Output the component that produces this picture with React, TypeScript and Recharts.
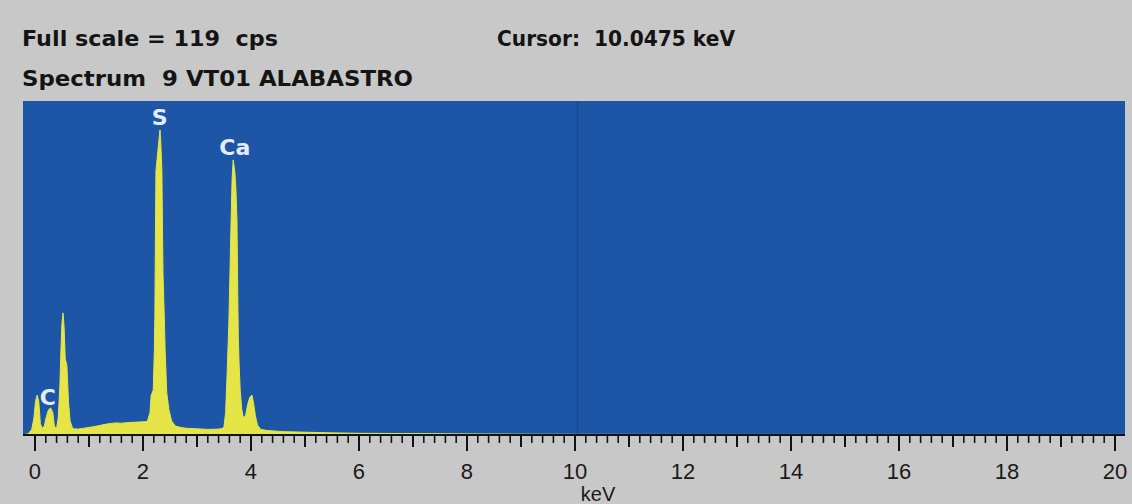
import React from 'react';
import { ComposedChart, Area, XAxis, YAxis, CartesianGrid, ReferenceLine, ReferenceDot } from 'recharts';

// spectrum, [keV, cps]
const lowEnergy: [number, number][] = [
  [-0.22, 0], [-0.12, 0.5], [-0.06, 2], [-0.02, 6], [0.01, 12], [0.04, 14.2], [0.07, 12],
  [0.1, 4], [0.13, 2.5], [0.17, 3], [0.21, 6.5], [0.25, 9], [0.29, 9.6], [0.33, 8],
  [0.36, 3], [0.4, 2.5], [0.43, 6], [0.46, 17], [0.48, 30], [0.5, 40], [0.52, 43.5],
  [0.54, 38], [0.56, 27], [0.59, 25], [0.62, 12], [0.65, 5], [0.7, 2.2], [0.8, 2.1],
];

const background: [number, number][] = [
  [0.9, 2.4], [1.0, 2.7], [1.1, 3.0], [1.2, 3.4], [1.3, 3.8], [1.4, 4.1], [1.5, 4.3],
  [1.6, 4.2], [1.7, 4.4], [1.8, 4.5], [1.9, 4.6], [2.0, 4.7], [2.08, 4.8],
];

const sulfurPeak: [number, number][] = [
  [2.13, 8], [2.15, 14], [2.19, 16], [2.21, 30], [2.22, 42], [2.23, 70], [2.24, 94],
  [2.27, 100], [2.3, 106], [2.315, 108.7], [2.33, 104], [2.35, 94], [2.36, 75], [2.37, 58],
  [2.39, 45], [2.41, 30], [2.44, 15], [2.48, 9], [2.53, 5], [2.6, 3.2],
];

const valley: [number, number][] = [
  [2.7, 2.7], [2.8, 2.4], [3.0, 2.2], [3.2, 2.0], [3.4, 2.1], [3.47, 2.3],
];

const calciumPeak: [number, number][] = [
  [3.5, 3], [3.53, 8], [3.56, 23], [3.59, 40], [3.61, 57], [3.63, 75], [3.65, 91],
  [3.67, 98], [3.7, 94], [3.72, 88], [3.74, 77], [3.755, 50], [3.765, 35], [3.78, 25],
  [3.8, 16], [3.83, 9], [3.86, 6], [3.9, 7], [3.94, 11], [3.98, 13.5], [4.02, 14.2],
  [4.05, 11], [4.08, 7], [4.12, 3.5], [4.18, 2.0],
];

const tail: [number, number][] = [
  [4.3, 1.6], [4.6, 1.2], [5.0, 1.0], [5.4, 0.8], [6.0, 0.6], [7.0, 0.5], [8.0, 0.4],
  [9.0, 0.3], [10.0, 0.25], [12.0, 0.2], [16.0, 0.2], [20.185, 0.2],
];

const peakLabels = [
  { name: 'C', kev: 0.24, cps: 13.5 },
  { name: 'S', kev: 2.31, cps: 113.3 },
  { name: 'Ca', kev: 3.7, cps: 102.6 },
];

const fullScale = 119;
const cursorKev = 10.0475;
const majorTicks = [0, 2, 4, 6, 8, 10, 12, 14, 16, 18, 20];

const data = [...lowEnergy, ...background, ...sulfurPeak, ...valley, ...calciumPeak, ...tail].map(
  ([kev, cps]) => ({ kev, cps })
);

const allTicks: number[] = [];
for (let i = 0; i <= 100; i++) allTicks.push(i / 5);

const BLUE = '#1d56a6';
const YELLOW = '#e5e548';
const GREY = '#c8c8c8';
const DARK = '#101418';

const KevTick = (props: any) => {
  const { x, y, payload } = props;
  const fifths = Math.round(payload.value * 5);
  const even = fifths % 10 === 0;
  const whole = fifths % 5 === 0;
  const len = even ? 16 : whole ? 12 : 8;
  const label = majorTicks.includes(fifths / 5);
  return (
    <g>
      <line x1={x} x2={x} y1={y} y2={y + len} stroke={DARK} strokeWidth={whole ? 2 : 1.6} />
      {label && (
        <text x={x} y={y + 44} textAnchor="middle" fontSize={22} fontFamily="'Liberation Sans', Arial, sans-serif" fill="#1a1a1a">
          {fifths / 5}
        </text>
      )}
    </g>
  );
};

const headerFont = "'DejaVu Sans', sans-serif";

export default function App() {
  return (
    <div style={{ position: 'absolute', left: 0, top: 0, width: 1132, height: 504, background: GREY, overflow: 'hidden' }}>
      <ComposedChart width={1132} height={504} data={data} margin={{ top: 101, right: 7, bottom: 0, left: 23 }}>
        <CartesianGrid horizontal={false} vertical={false} fill={BLUE} />
        <XAxis
          dataKey="kev"
          type="number"
          domain={[-0.222, 20.185]}
          allowDataOverflow
          ticks={allTicks}
          interval={0}
          tick={<KevTick />}
          tickLine={false}
          tickSize={0}
          tickMargin={0}
          height={69}
          axisLine={{ stroke: DARK, strokeWidth: 2 }}
          label={{ value: 'keV', position: 'insideBottom', offset: 3, dx: 24, fontSize: 20, fill: '#1a1a1a', fontFamily: "'Liberation Sans', Arial, sans-serif" }}
        />
        <XAxis
          xAxisId="top"
          orientation="top"
          dataKey="kev"
          type="number"
          domain={[-0.222, 20.185]}
          allowDataOverflow
          height={0}
          tick={false}
          tickLine={false}
          axisLine={{ stroke: DARK, strokeWidth: 2 }}
        />
        <YAxis
          type="number"
          domain={[0, fullScale]}
          allowDataOverflow
          width={0}
          tick={false}
          tickLine={false}
          axisLine={{ stroke: DARK, strokeWidth: 2 }}
        />
        <ReferenceLine x={cursorKev} stroke="#174a90" strokeWidth={1.5} />
        <Area
          type="linear"
          dataKey="cps"
          stroke={YELLOW}
          strokeWidth={1}
          fill={YELLOW}
          fillOpacity={1}
          dot={false}
          activeDot={false}
          isAnimationActive={false}
        />
        {peakLabels.map((p) => (
          <ReferenceDot
            key={p.name}
            x={p.kev}
            y={p.cps}
            r={1}
            fill="none"
            stroke="none"
            label={{ value: p.name, position: 'center', fill: '#e6ecff', fontSize: 22, fontWeight: 'bold', fontFamily: headerFont }}
          />
        ))}
      </ComposedChart>
      <svg width={1132} height={100} style={{ position: 'absolute', left: 0, top: 0 }}>
        <g fontFamily={headerFont} fontWeight="bold" fontSize={22} fill="#141414">
          <text x={22} y={46} textLength={256} lengthAdjust="spacingAndGlyphs" style={{ whiteSpace: 'pre' }}>{`Full scale = ${fullScale}  cps`}</text>
          <text x={497} y={46} textLength={238} lengthAdjust="spacingAndGlyphs" style={{ whiteSpace: 'pre' }}>{`Cursor:  ${cursorKev} keV`}</text>
          <text x={22} y={86} textLength={391} lengthAdjust="spacingAndGlyphs" style={{ whiteSpace: 'pre' }}>{'Spectrum  9 VT01 ALABASTRO'}</text>
        </g>
      </svg>
    </div>
  );
}
